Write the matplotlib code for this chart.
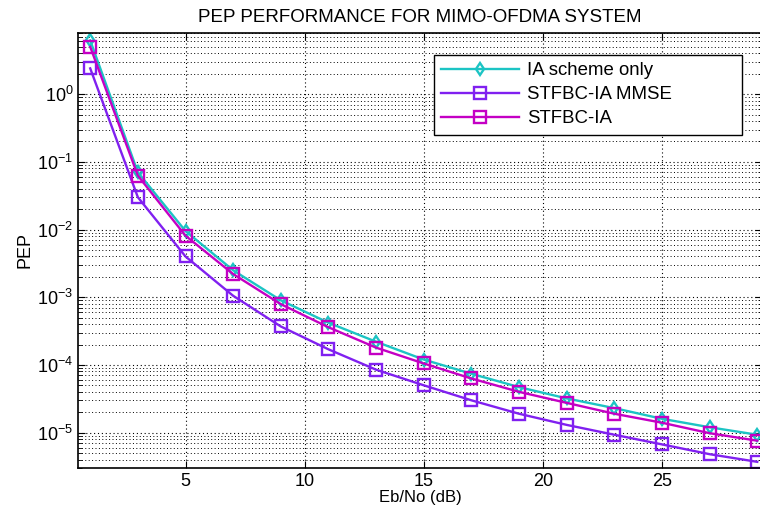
from matplotlib import pyplot as plt
from matplotlib.ticker import FixedLocator, NullFormatter, MultipleLocator

plt.rcParams['font.family'] = ['Liberation Sans', 'DejaVu Sans']

ebno = [1, 3, 5, 7, 9, 11, 13, 15, 17, 19, 21, 23, 25, 27, 29]

pep_ia_only = [6.2, 0.070, 0.0095, 0.0025, 9.0e-4, 4.2e-4, 2.2e-4, 1.2e-4,
               7.4e-5, 4.7e-5, 3.2e-5, 2.3e-5, 1.6e-5, 1.2e-5, 9.3e-6]
pep_mmse    = [2.4, 0.030, 0.0040, 1.05e-3, 3.7e-4, 1.7e-4, 8.5e-5, 5.0e-5,
               3.0e-5, 1.9e-5, 1.3e-5, 9.3e-6, 6.7e-6, 4.8e-6, 3.7e-6]
pep_stfbc   = [5.0, 0.0625, 0.0081, 0.0022, 7.9e-4, 3.6e-4, 1.8e-4, 1.05e-4,
               6.3e-5, 4.0e-5, 2.75e-5, 1.9e-5, 1.4e-5, 9.8e-6, 7.6e-6]

series = [
  ('IA scheme only', pep_ia_only, '#1cc4c4', 'd', 6),
  ('STFBC-IA MMSE',  pep_mmse,    '#8020f0', 's', 8.5),
  ('STFBC-IA',       pep_stfbc,   '#c400c4', 's', 8.5),
]

yticks = [1e-5, 1e-4, 1e-3, 1e-2, 1e-1, 1e0]
yminor = [m * 10.0**e for e in range(-6, 1) for m in range(2, 10)]
yminor = [v for v in yminor if 3e-6 <= v <= 8]

fig = plt.figure(figsize=(7.6, 5.07), dpi=100)
ax  = fig.add_axes([78.3/760, 1 - 468/507, (762 - 78.3)/760, (468 - 33)/507])

for label, vals, color, mk, ms in series:
  ax.semilogy(ebno, vals,
      color           = color,
      linewidth       = 1.7,
      marker          = mk,
      markersize      = ms,
      markerfacecolor = 'none',
      markeredgewidth = 1.7,
      label           = label)

ax.set_xlim(0.5, 29.2)
ax.set_ylim(3e-6, 8)
ax.xaxis.set_major_locator(MultipleLocator(5))
ax.yaxis.set_major_locator(FixedLocator(yticks))
ax.yaxis.set_minor_locator(FixedLocator(yminor))
ax.yaxis.set_minor_formatter(NullFormatter())

dots = (0, (1, 2.5))
ax.grid(True, which='major', linestyle=dots, color='black', linewidth=0.8)
ax.grid(True, which='minor', axis='y', linestyle=dots, color='black', linewidth=0.7)
ax.tick_params(which='both', direction='in', top=True, right=True, labelsize=13)
ax.tick_params(which='major', length=5)
ax.tick_params(which='minor', length=3)
for sp in ax.spines.values():
  sp.set_linewidth(1.2)

ax.set_title('PEP PERFORMANCE FOR MIMO-OFDMA SYSTEM', fontsize=13.5, pad=8)
ax.set_xlabel('Eb/No (dB)', fontsize=12, labelpad=0)
ax.set_ylabel('PEP', fontsize=13, labelpad=3)

leg = ax.legend(loc='upper left', bbox_to_anchor=(0.520, 0.70, 0.4505, 0.249),
    mode='expand', fontsize=13.4, handlelength=4.2, handletextpad=0.45,
    fancybox=False, framealpha=1, edgecolor='black', borderpad=0.38,
    labelspacing=0.38, borderaxespad=0)
leg.get_frame().set_linewidth(1.0)

fig.savefig('out.png', dpi=100)
